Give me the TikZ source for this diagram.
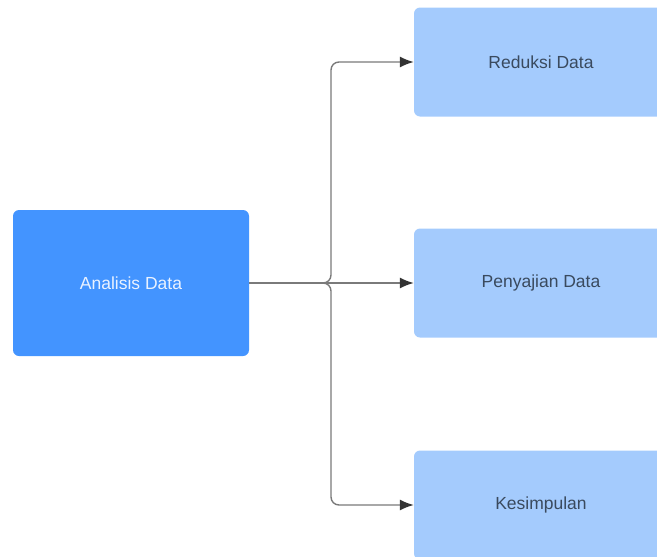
\documentclass[tikz,border=0pt]{standalone}
\usepackage{fontspec}
\setmainfont{Liberation Sans}
\usetikzlibrary{arrows.meta}
\definecolor{darkbox}{HTML}{4394FF}
\definecolor{lightbox}{HTML}{A4CBFD}
\definecolor{lighttext}{HTML}{EAF2FF}
\definecolor{darktext}{HTML}{3A4A5E}
\definecolor{linecol}{HTML}{7A7A7A}
\definecolor{tipcol}{HTML}{333333}
\tikzset{
  mainbox/.style={fill=darkbox, rounded corners=6pt, minimum width=236pt, minimum height=146pt, text=lighttext, font=\fontsize{17.5}{20}\selectfont, inner sep=0pt},
  subbox/.style={fill=lightbox, rounded corners=6pt, minimum width=254pt, minimum height=109pt, text=darktext, font=\fontsize{17.5}{20}\selectfont, inner sep=0pt},
  conn/.style={draw=linecol, line width=1.4pt, rounded corners=8pt, -{Latex[length=14pt,width=11pt,color=tipcol]}}
}
\begin{document}
\begin{tikzpicture}[x=1pt,y=-1pt]
\useasboundingbox (0,0) rectangle (657,557);
\clip (0,0) rectangle (657,557);
\node[mainbox] (ana) at (131,283) {Analisis Data};
\node[subbox] (red) at (541,62) {Reduksi Data};
\node[subbox] (pen) at (541,283) {Penyajian Data};
\node[subbox] (kes) at (541,505) {Kesimpulan};
\draw[conn] (ana.east) -- (pen.west);
\draw[conn] (ana.east) -- (331,283) |- (red.west);
\draw[conn] (ana.east) -- (331,283) |- (kes.west);
\end{tikzpicture}
\end{document}
